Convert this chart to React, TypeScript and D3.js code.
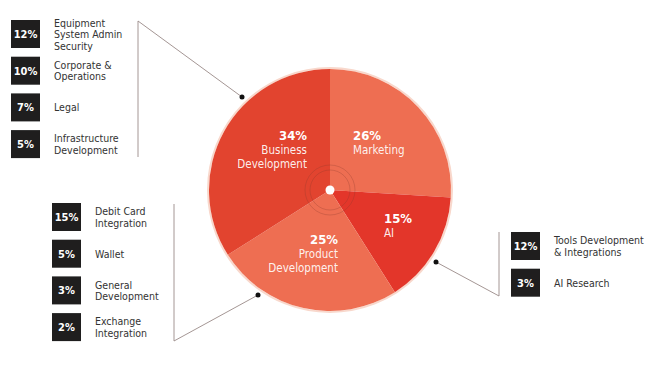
import * as d3 from "d3";

const sliceNames = [["Marketing"], ["AI"], ["Product", "Development"], ["Business", "Development"]];
const sliceValues = [26, 15, 25, 34];
const sliceColors = ["#ee6e52", "#e3362a", "#ee6e52", "#e2442f"];

const leftTopPct = ["12%", "10%", "7%", "5%"];
const leftTopLabels = [["Equipment", "System Admin", "Security"], ["Corporate &", "Operations"], ["Legal"], ["Infrastructure", "Development"]];
const leftBottomPct = ["15%", "5%", "3%", "2%"];
const leftBottomLabels = [["Debit Card", "Integration"], ["Wallet"], ["General", "Development"], ["Exchange", "Integration"]];
const rightPct = ["12%", "3%"];
const rightLabels = [["Tools Development", "& Integrations"], ["AI Research"]];

const W = 667, H = 365;
const cx = 330, cy = 190, R = 121;
const font = "'DejaVu Sans Condensed', 'Open Sans', sans-serif";

// label anchor inside each slice
const labelPos = [
  { x: 353, y: 140, anchor: "start" },
  { x: 384, y: 223, anchor: "start" },
  { x: 338, y: 244, anchor: "end" },
  { x: 307, y: 140, anchor: "end" },
];

function Group({ x, y, pct, labels }: { x: number; y: number; pct: string[]; labels: string[][] }) {
  const step = 36.7;
  return (
    <g>
      {pct.map((p, i) => {
        const top = y + i * step;
        const mid = top + 14;
        const lines = labels[i];
        return (
          <g key={i}>
            <rect x={x} y={top} width={29} height={28} fill="#1f1e1e" />
            <text x={x + 14.5} y={mid + 4} fill="#fff" fontSize={11} fontWeight="bold" textAnchor="middle" fontFamily={font}>{p}</text>
            {lines.map((l, j) => (
              <text key={j} x={x + 43} y={mid + 4 + (j - (lines.length - 1) / 2) * 11.5} fill="#333" fontSize={10.5} fontFamily={font}>{l}</text>
            ))}
          </g>
        );
      })}
    </g>
  );
}

export default function App() {
  const pie = d3.pie<number>().sort(null).startAngle(0).endAngle(2 * Math.PI);
  const arcs = pie(sliceValues);
  const arc = d3.arc<d3.PieArcDatum<number>>().innerRadius(0).outerRadius(R);
  const leader = "#9a8a88";
  return (
    <svg width={W} height={H} style={{ position: "absolute", left: 0, top: 0 }}>
      <rect width={W} height={H} fill="#fff" />
      <circle cx={cx} cy={cy} r={R + 1} fill="none" stroke="#f8d8cc" strokeWidth={2} />
      <g transform={`translate(${cx},${cy})`}>
        {arcs.map((a, i) => (
          <path key={i} d={arc(a) || ""} fill={sliceColors[i]} />
        ))}
        <circle r={20} fill="none" stroke="#8a3a2a" strokeOpacity={0.4} strokeWidth={0.7} />
        <circle r={25} fill="none" stroke="#8a3a2a" strokeOpacity={0.4} strokeWidth={0.7} />
        <circle r={4.5} fill="#fff" />
      </g>
      {arcs.map((a, i) => {
        const p = labelPos[i];
        return (
          <g key={i} fill="#fff" fontFamily={font} textAnchor={p.anchor}>
            <text x={p.x} y={p.y} fontSize={13} fontWeight="bold">{sliceValues[i]}%</text>
            {sliceNames[i].map((n, j) => (
              <text key={j} x={p.x} y={p.y + 14 + j * 14} fontSize={11.5} fillOpacity={0.92}>{n}</text>
            ))}
          </g>
        );
      })}
      {/* leader lines */}
      <g stroke={leader} strokeWidth={0.9} fill="none">
        <polyline points="242,97 138,21 138,157" />
        <polyline points="258,295 174,341 174,204" />
        <polyline points="436,262 499,296 499,232" />
      </g>
      <circle cx={242} cy={97} r={2.5} fill="#111" />
      <circle cx={258} cy={295} r={2.5} fill="#111" />
      <circle cx={436} cy={262} r={2.5} fill="#111" />
      <Group x={11} y={20} pct={leftTopPct} labels={leftTopLabels} />
      <Group x={52} y={203} pct={leftBottomPct} labels={leftBottomLabels} />
      <Group x={511} y={232} pct={rightPct} labels={rightLabels} />
    </svg>
  );
}
